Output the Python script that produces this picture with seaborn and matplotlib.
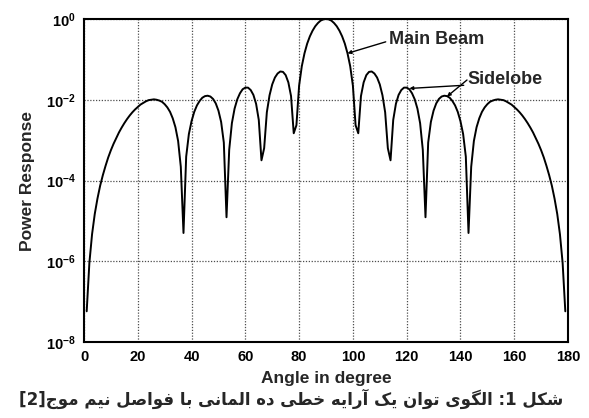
import matplotlib
matplotlib.use("Agg")
import numpy as np
import pandas as pd
import seaborn as sns
import matplotlib.pyplot as plt
from matplotlib.ticker import FixedLocator, NullLocator

# ---------------- data ----------------
angles = list(range(1, 180))  # degrees, 1-degree sampling

# log10 of the power response at each angle
log_power = [
    -7.24, -6.04, -5.33, -4.83, -4.45, -4.13, -3.87, -3.64, -3.43, -3.25,
    -3.09, -2.95, -2.81, -2.69, -2.58, -2.48, -2.39, -2.31, -2.24, -2.18,
    -2.12, -2.08, -2.04, -2.01, -2.00, -1.99, -2.00, -2.02, -2.05, -2.11,
    -2.19, -2.30, -2.46, -2.68, -3.02, -3.66, -5.30, -3.41, -2.85, -2.53,
    -2.30, -2.14, -2.03, -1.95, -1.91, -1.90, -1.92, -1.98, -2.09, -2.27,
    -2.55, -3.06, -4.91, -3.24, -2.58, -2.22, -1.99, -1.84, -1.74, -1.70,
    -1.70, -1.76, -1.88, -2.10, -2.50, -3.50, -3.20, -2.31, -1.89, -1.62,
    -1.45, -1.35, -1.30, -1.31, -1.39, -1.57, -1.91, -2.83, -2.63, -1.65,
    -1.17, -0.85, -0.61, -0.43, -0.29, -0.18, -0.10, -0.04, -0.01,
    0.00,
    -0.01, -0.04, -0.10, -0.18, -0.29, -0.43, -0.61, -0.85, -1.17,
    -1.65, -2.63, -2.83, -1.91, -1.57, -1.39, -1.31, -1.30, -1.35, -1.45,
    -1.62, -1.89, -2.31, -3.20, -3.50, -2.50, -2.10, -1.88, -1.76, -1.70,
    -1.70, -1.74, -1.84, -1.99, -2.22, -2.58, -3.24, -4.91, -3.06, -2.55,
    -2.27, -2.09, -1.98, -1.92, -1.90, -1.91, -1.95, -2.03, -2.14, -2.30,
    -2.53, -2.85, -3.41, -5.30, -3.66, -3.02, -2.68, -2.46, -2.30, -2.19,
    -2.11, -2.05, -2.02, -2.00, -1.99, -2.00, -2.01, -2.04, -2.08, -2.12,
    -2.18, -2.24, -2.31, -2.39, -2.48, -2.58, -2.69, -2.81, -2.95, -3.09,
    -3.25, -3.43, -3.64, -3.87, -4.13, -4.45, -4.83, -5.33, -6.04, -7.24,
]

x_ticks = [0, 20, 40, 60, 80, 100, 120, 140, 160, 180]
y_ticks = [1e-8, 1e-6, 1e-4, 1e-2, 1e0]
y_tick_labels = [r"$\mathbf{10^{-8}}$", r"$\mathbf{10^{-6}}$", r"$\mathbf{10^{-4}}$",
                 r"$\mathbf{10^{-2}}$", r"$\mathbf{10^{0}}$"]

x_label = "Angle in degree"
y_label = "Power Response"
main_label = "Main Beam"
main_target = (98, 10 ** -0.85)
side_label = "Sidelobe"
side_targets = [(121, 10 ** -1.72), (135, 10 ** -1.92)]

# Persian caption (logical text: شکل 1: الگوی توان یک آرایه خطی ده المانی با فواصل نیم موج[2])
# written with Arabic presentation forms in visual (left-to-right) order
caption = ("[2]"
           "\uFE9D\uFEEE\uFEE3" + " " +            # موج
           "\uFEE2\uFBFF\uFEE7" + " " +            # نیم
           "\uFEDE\uFEBB\uFE8D\uFEEE\uFED3" + " " +  # فواصل
           "\uFE8E\uFE91" + " " +                  # با
           "\uFBFD\uFEE7\uFE8E\uFEE4\uFEDF\uFE8D" + " " +  # المانی
           "\uFEE9\uFEA9" + " " +                  # ده
           "\uFBFD\uFEC4\uFEA7" + " " +            # خطی
           "\uFEEA\uFBFE\uFE8D\uFEAD\uFE81" + " " +  # آرایه
           "\uFB8F\uFBFE" + " " +                  # یک
           "\uFEE5\uFE8D\uFEEE\uFE97" + " " +      # توان
           "\uFBFC\uFEEE\uFB95\uFEDF\uFE8D" + " " +  # الگوی
           ":1 " +
           "\uFEDE\uFB91\uFEB7")                   # شکل

# ---------------- figure ----------------
sns.set_style("white")
plt.rcParams["font.family"] = ["Liberation Sans", "DejaVu Sans"]
plt.rcParams["mathtext.fontset"] = "custom"
plt.rcParams["mathtext.bf"] = "Liberation Sans:bold"
plt.rcParams["mathtext.rm"] = "Liberation Sans"

W, H = 589, 418
fig = plt.figure(figsize=(W / 100, H / 100), dpi=100)
fig.patch.set_facecolor("white")
ax = fig.add_axes([84 / W, 1 - 342 / H, (568 - 84) / W, (342 - 19) / H])

df = pd.DataFrame({"angle": angles, "power": 10.0 ** np.array(log_power)})
sns.lineplot(data=df, x="angle", y="power", ax=ax, color="black", lw=1.4,
             estimator=None, sort=False, legend=False)

ax.set_yscale("log")
ax.set_xlim(0, 180)
ax.set_ylim(1e-8, 1e0)
ax.xaxis.set_major_locator(FixedLocator(x_ticks))
ax.yaxis.set_major_locator(FixedLocator(y_ticks))
ax.yaxis.set_minor_locator(NullLocator())
ax.set_yticklabels(y_tick_labels)
ax.set_xticklabels([str(t) for t in x_ticks])

for lab in ax.get_xticklabels():
    lab.set_fontweight("bold")
ax.tick_params(axis="both", which="major", direction="in", length=3,
               labelsize=10.5, colors="black", pad=6)

ax.grid(True, which="major", color="0.3", linestyle=(0, (1, 1.3)), linewidth=0.9)
for sp in ax.spines.values():
    sp.set_visible(True)
    sp.set_color("black")
    sp.set_linewidth(1.5)

ax.set_xlabel(x_label, fontsize=12.5, fontweight="bold", labelpad=5)
ax.set_ylabel(y_label, fontsize=12.5, fontweight="bold", labelpad=8)

arrow_kw = dict(arrowstyle="-|>", color="black", lw=1.0, shrinkA=0, shrinkB=0,
                mutation_scale=5)
ax.annotate(main_label, xy=main_target, xycoords="data",
            xytext=(389, H - 40), textcoords="figure pixels",
            fontsize=13, fontweight="bold", ha="left", va="center",
            arrowprops=dict(arrow_kw, relpos=(0, 0.45)))
for tgt in side_targets:
    ax.annotate(side_label if tgt == side_targets[0] else "", xy=tgt, xycoords="data",
                xytext=(467, H - 80), textcoords="figure pixels",
                fontsize=13, fontweight="bold", ha="left", va="center",
                arrowprops=dict(arrow_kw, relpos=(0, 0.2)))

fig.text(0.494, 1 - 399 / H, caption, ha="center", va="center",
         fontsize=12, fontweight="bold", family=["DejaVu Sans"])

fig.savefig("out.png", dpi=100, facecolor="white")
